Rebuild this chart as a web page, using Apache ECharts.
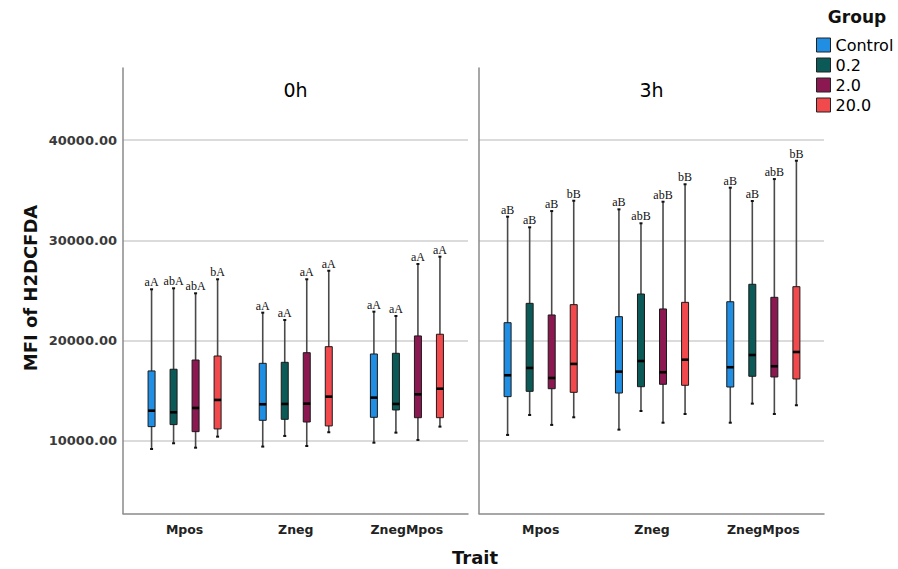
<!DOCTYPE html>
<html>
<head>
<meta charset="utf-8">
<script src="https://cdn.jsdelivr.net/npm/echarts@6/dist/echarts.min.js"></script>
<style>
html,body{margin:0;padding:0;background:#fff;}
#chart{width:898px;height:569px;}
</style>
</head>
<body>
<div id="chart"></div>
<script>
// ---------------- data ----------------
const categories = ['Mpos', 'Zneg', 'ZnegMpos'];
const groups = ['Control', '0.2', '2.0', '20.0'];
const times = ['0h', '3h'];
const yTicks = [10000, 20000, 30000, 40000];

// each row: [min, Q1, median, Q3, max] for Mpos, Zneg, ZnegMpos
const control_0h = [[9200, 11430, 13020, 16980, 25120], [9440, 12060, 13660, 17740, 22790], [9830, 12360, 14320, 18670, 22890]];
const g02_0h     = [[9770, 11630, 12860, 17150, 25220], [10500, 12160, 13690, 17840, 22060], [10830, 13090, 13690, 18740, 22460]];
const g20_0h     = [[9330, 10930, 13290, 18070, 24720], [9500, 11890, 13720, 18800, 26120], [10100, 12320, 14650, 20470, 27640]];
const g200_0h    = [[10430, 11200, 14090, 18470, 26120], [10870, 11500, 14420, 19400, 26970], [11430, 12320, 15210, 20640, 28370]];

const control_3h = [[10600, 14420, 16550, 21790, 32360], [11130, 14780, 16910, 22390, 33090], [11820, 15380, 17350, 23880, 35250]];
const g02_3h     = [[12590, 14950, 17280, 23720, 31300], [12990, 15410, 17970, 24650, 31700], [13720, 16450, 18570, 25620, 33920]];
const g20_3h     = [[11600, 15210, 16280, 22560, 32920], [11820, 15650, 16850, 23160, 33850], [12690, 16380, 17450, 24320, 36110]];
const g200_3h    = [[12360, 14850, 17680, 23590, 33950], [12690, 15550, 18100, 23820, 35590], [13560, 16180, 18870, 25380, 37940]];

// significance letters
const sig_control_0h = ['aA', 'aA', 'aA'];
const sig_g02_0h     = ['abA', 'aA', 'aA'];
const sig_g20_0h     = ['abA', 'aA', 'aA'];
const sig_g200_0h    = ['bA', 'aA', 'aA'];
const sig_control_3h = ['aB', 'aB', 'aB'];
const sig_g02_3h     = ['aB', 'abB', 'aB'];
const sig_g20_3h     = ['aB', 'abB', 'abB'];
const sig_g200_3h    = ['bB', 'bB', 'bB'];

// ---------------- styles ----------------
const colors = ['#1f8ee3', '#0c5a57', '#8c1852', '#f2494d'];
const Y_MIN = 2770, Y_MAX = 47180;
const OFFSET_FRAC = 0.198;
const BOX_W = 7;

const panelData = [
  [control_0h, g02_0h, g20_0h, g200_0h],
  [control_3h, g02_3h, g20_3h, g200_3h]
];
const panelSig = [
  [sig_control_0h, sig_g02_0h, sig_g20_0h, sig_g200_0h],
  [sig_control_3h, sig_g02_3h, sig_g20_3h, sig_g200_3h]
];

function makeRender(panel, g) {
  return function (params, api) {
    const ci = api.value(0);
    const band = api.size([1, 0])[0];
    const off = (g - 1.5) * band * OFFSET_FRAC;
    const x = api.coord([ci, api.value(1)])[0] + off;
    const yMin = api.coord([ci, api.value(1)])[1];
    const yQ1 = api.coord([ci, api.value(2)])[1];
    const yMed = api.coord([ci, api.value(3)])[1];
    const yQ3 = api.coord([ci, api.value(4)])[1];
    const yMax = api.coord([ci, api.value(5)])[1];
    const label = panelSig[panel][g][params.dataIndex];
    return {
      type: 'group',
      children: [
        {type: 'line', shape: {x1: x, y1: yMax, x2: x, y2: yMin},
         style: {stroke: '#4a4a4a', lineWidth: 1.6}},
        {type: 'rect', shape: {x: x - 1.5, y: yMax - 1, width: 3, height: 2}, style: {fill: '#111'}},
        {type: 'rect', shape: {x: x - 1.5, y: yMin - 1, width: 3, height: 2}, style: {fill: '#111'}},
        {type: 'rect', shape: {x: x - BOX_W / 2, y: yQ3, width: BOX_W, height: yQ1 - yQ3},
         style: {fill: colors[g], stroke: '#1a1a1a', lineWidth: 1}},
        {type: 'line', shape: {x1: x - BOX_W / 2, y1: yMed, x2: x + BOX_W / 2, y2: yMed},
         style: {stroke: '#000', lineWidth: 2.6}},
        {type: 'text', x: x, y: yMax - 1,
         style: {text: label, textAlign: 'center', textVerticalAlign: 'bottom',
                 font: '12px "Liberation Serif"', fill: '#111'}}
      ]
    };
  };
}

const series = [];
panelData.forEach(function (pd, p) {
  pd.forEach(function (rows, g) {
    series.push({
      type: 'custom',
      name: groups[g],
      xAxisIndex: 2 + p,
      yAxisIndex: 2 + p,
      itemStyle: {color: colors[g]},
      encode: {x: 0, y: [1, 2, 3, 4, 5]},
      data: rows.map(function (r, i) { return [i].concat(r); }),
      renderItem: makeRender(p, g),
      silent: true,
      z: 5
    });
  });
});

const frameLine = {show: true, lineStyle: {color: '#8a8a8a', width: 1.5}};
function yFrame(showLabels) {
  return {
    type: 'value', min: Y_MIN, max: Y_MAX,
    axisLine: frameLine,
    axisTick: {show: false},
    axisLabel: {
      show: showLabels, margin: 6, color: '#3a3a3a',
      fontFamily: 'DejaVu Sans', fontSize: 13, fontWeight: 'bold',
      showMinLabel: false, showMaxLabel: false,
      formatter: function (v) { return yTicks.indexOf(v) >= 0 ? v.toFixed(2) : ''; }
    },
    splitLine: {show: true, showMinLine: false, showMaxLine: false,
                lineStyle: {color: '#cfcfcf', width: 1.5}}
  };
}
function yData() {
  return {type: 'value', min: Y_MIN, max: Y_MAX, show: false, splitLine: {show: false}};
}
function xFrame() {
  return {type: 'value', min: 0, max: 1, axisLine: Object.assign({onZero: false}, frameLine),
          axisTick: {show: false}, axisLabel: {show: false}, splitLine: {show: false}};
}
function xData(gi) {
  return {type: 'category', gridIndex: gi, data: categories, boundaryGap: true,
          axisLine: {show: false}, axisTick: {show: false},
          axisLabel: {margin: 9, color: '#222', fontFamily: 'DejaVu Sans', fontSize: 12.5, fontWeight: 'bold'},
          splitLine: {show: false}};
}

const chart = echarts.init(document.getElementById('chart'), null, {renderer: 'svg'});
chart.setOption({
  animation: false,
  backgroundColor: '#fff',
  grid: [
    {left: 123, top: 68, width: 345, height: 445.5},
    {left: 479, top: 68, width: 345, height: 445.5},
    {left: 129, top: 68, width: 333.5, height: 445.5},
    {left: 485, top: 68, width: 334, height: 445.5}
  ],
  xAxis: [
    Object.assign({gridIndex: 0}, xFrame()),
    Object.assign({gridIndex: 1}, xFrame()),
    xData(2),
    xData(3)
  ],
  yAxis: [
    Object.assign({gridIndex: 0}, yFrame(true)),
    Object.assign({gridIndex: 1}, yFrame(false)),
    Object.assign({gridIndex: 2}, yData()),
    Object.assign({gridIndex: 3}, yData())
  ],
  legend: {
    orient: 'vertical', left: 816, top: 37, padding: 0, itemWidth: 14, itemHeight: 14, itemGap: 4,
    icon: 'rect', selectedMode: false,
    itemStyle: {borderColor: '#222', borderWidth: 1},
    textStyle: {fontFamily: 'DejaVu Sans', fontSize: 16, color: '#000'},
    data: groups.map(function (g, i) { return {name: g, itemStyle: {color: colors[i]}}; })
  },
  graphic: [
    {type: 'text', x: 857, y: 17, style: {text: 'Group', textAlign: 'center', textVerticalAlign: 'middle',
      font: 'bold 17px "DejaVu Sans"', fill: '#111'}},
    {type: 'text', x: 295.5, y: 90, style: {text: times[0], textAlign: 'center', textVerticalAlign: 'middle',
      font: '19px "DejaVu Sans"', fill: '#000'}},
    {type: 'text', x: 651.5, y: 90, style: {text: times[1], textAlign: 'center', textVerticalAlign: 'middle',
      font: '19px "DejaVu Sans"', fill: '#000'}},
    {type: 'text', x: 475, y: 557, style: {text: 'Trait', textAlign: 'center', textVerticalAlign: 'middle',
      font: 'bold 18px "DejaVu Sans"', fill: '#111'}},
    {type: 'text', x: 30, y: 288, rotation: Math.PI / 2, style: {text: 'MFI of H2DCFDA', textAlign: 'center',
      textVerticalAlign: 'middle', font: 'bold 18px "DejaVu Sans"', fill: '#111'}}
  ],
  series: series
});
</script>
</body>
</html>
